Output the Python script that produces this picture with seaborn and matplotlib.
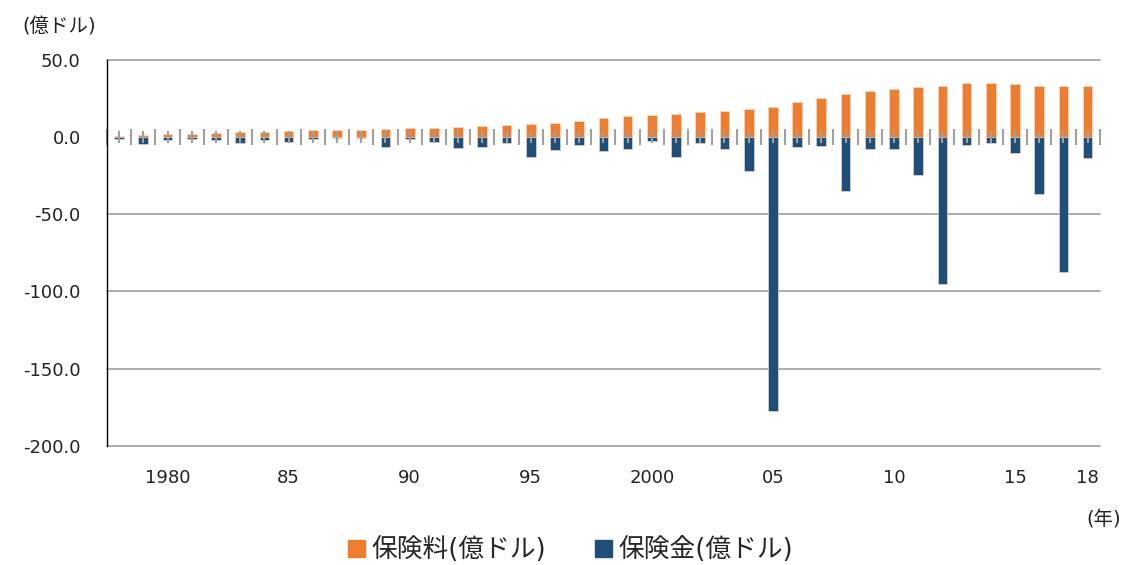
import numpy as np
import pandas as pd
import matplotlib
matplotlib.use('Agg')
import matplotlib.pyplot as plt
import seaborn as sns

# data (億ドル)
years = list(range(1978, 2019))
premium = [0.9, 1.5, 1.7, 1.9, 2.6, 3.4, 3.6, 3.9, 4.3, 4.7, 4.9, 5.4, 5.8,
           6.1, 6.2, 6.9, 7.5, 8.6, 9.2, 10.5, 12.2, 13.5, 14.6, 15.2, 16.3, 17.2,
           18.2, 19.7, 22.5, 25.5, 27.8, 29.8, 31.0, 32.3, 33.4, 35.1, 35.3, 34.3, 33.2, 33.0, 33.4]
claims = [-1.3, -4.7, -2.1, -1.0, -2.1, -4.0, -2.1, -3.4, -1.3, -0.4, -0.4, -6.4, -1.5,
          -3.4, -7.1, -6.4, -3.8, -12.8, -8.1, -4.9, -8.8, -7.5, -2.3, -12.6, -4.0, -7.7,
          -22.2, -177.8, -6.4, -6.0, -35.0, -7.7, -7.7, -24.4, -95.0, -5.0, -3.7, -10.3, -36.9, -87.3, -13.5]
series_names = ['保険料(億ドル)', '保険金(億ドル)']
label_years = {1980: '1980', 1985: '85', 1990: '90', 1995: '95', 2000: '2000',
               2005: '05', 2010: '10', 2015: '15', 2018: '18'}
yticks = [50, 0, -50, -100, -150, -200]
colors = ['#ED7D31', '#1F4E79']

df = pd.DataFrame({
    'year': [str(y) for y in years] * 2,
    'value': premium + claims,
    'series': [series_names[0]] * len(years) + [series_names[1]] * len(years),
})

sns.set_style('white')
plt.rcParams['font.family'] = ['DejaVu Sans', 'Noto Sans CJK JP']

fig = plt.figure(figsize=(11.23, 5.65), dpi=100)
ax = fig.add_axes([0.0953, 0.2071, 0.884, 0.6885])

sns.barplot(data=df, x='year', y='value', hue='series', dodge=False, width=0.4,
            palette=colors, saturation=1, edgecolor='#fbe0cc', linewidth=0.4,
            ax=ax, legend=False, zorder=3)

ax.set_xlim(-0.5, len(years) - 0.5)
ax.set_ylim(-201.5, 50.6)
ax.set_yticks(yticks)
ax.set_yticklabels([f'{v:.1f}' for v in yticks], fontsize=13, color='#222222')
# horizontal gridlines
for v in yticks:
    if v != 0:
        ax.axhline(v, color='#A6A6A6', linewidth=1.3, zorder=1, clip_on=False)
for s in ['top', 'right', 'bottom']:
    ax.spines[s].set_visible(False)
ax.spines['left'].set_color('#000000')
ax.spines['left'].set_linewidth(1)
ax.spines['left'].set_bounds(-200, 50)
ax.spines['left'].set_zorder(5)
ax.tick_params(axis='y', direction='out', length=7, width=1, color='#000000', pad=12)

pos = [years.index(y) for y in label_years]
ax.set_xticks(pos)
ax.set_xticklabels(list(label_years.values()), fontsize=13, color='#222222')
ax.tick_params(axis='x', length=0, pad=15)
ax.set_xlabel('')
ax.set_ylabel('')

# category axis through zero
zero_loc = (0 - (-201.5)) / 252.1
sec = ax.secondary_xaxis(zero_loc)
sec.set_zorder(4)
sec.set_xticks(np.arange(-0.5, len(years), 1.0))
sec.set_xticks(np.arange(0, len(years), 1.0), minor=True)
sec.set_xticklabels([])
sec.tick_params(which='major', direction='inout', length=11, width=1.5, color='#A0A0A0')
sec.tick_params(which='minor', direction='inout', length=8, width=1.5, color='#A0A0A0')
sec.spines['bottom'].set_color('#8C8C8C')
sec.spines['bottom'].set_linewidth(1.8)
sec.spines['top'].set_visible(False)

fig.text(0.02, 0.952, '(億ドル)', fontsize=14, color='#222222', ha='left', va='center')
fig.text(0.998, 0.081, '(年)', fontsize=14, color='#222222', ha='right', va='center')

handles = [plt.Rectangle((0, 0), 1, 1, color=c) for c in colors]
fig.legend(handles, series_names, loc='center', bbox_to_anchor=(0.508, 0.026), ncol=2,
           frameon=False, fontsize=18.5, handlelength=0.65, handleheight=0.65,
           handletextpad=0.25, columnspacing=1.9)

fig.savefig('out.png', dpi=100)
